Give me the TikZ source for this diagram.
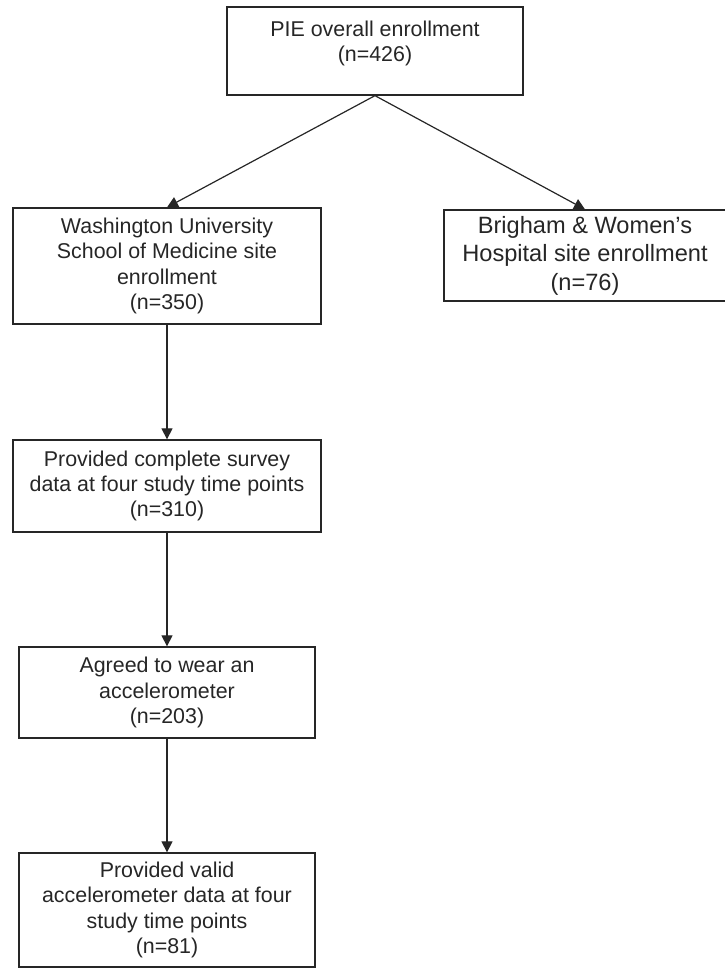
\documentclass[tikz,border=0pt]{standalone}
\usepackage{fontspec}
\setmainfont{Liberation Sans}
\usetikzlibrary{arrows.meta}

\begin{document}
\begin{tikzpicture}[x=0.5pt, y=-0.5pt,
    box/.style={draw=black!85, line width=0.65pt, inner sep=0pt, align=center, text=black!85, font=\fontsize{10.7}{12.6}\selectfont},
    link/.style={draw=black!85, line width=0.6pt, -{Triangle[length=5.5pt,width=5.5pt]}}]
    \useasboundingbox (0,0) rectangle (724,968);

    % Overall enrollment and sites
    \node[box, minimum width=148pt, minimum height=44pt] (pie) at (375,51) {\parbox[c][30pt][t]{146pt}{\centering PIE overall enrollment\\(n=426)}};
    \node[box, minimum width=154pt, minimum height=58pt] (wash) at (167,266) {Washington University\\School of Medicine site\\enrollment\\(n=350)};
    \node[box, minimum width=141pt, minimum height=45.5pt, font=\fontsize{11.8}{14.2}\selectfont] (bwh) at (585,255.5) {Brigham \& Women's\\Hospital site enrollment\\(n=76)};

    % Washington University sample
    \node[box, minimum width=154pt, minimum height=46pt] (survey) at (167,486) {Provided complete survey\\data at four study time points\\(n=310)};
    \node[box, minimum width=148pt, minimum height=45.5pt] (accel) at (167,692.5) {Agreed to wear an\\accelerometer\\(n=203)};
    \node[box, minimum width=148pt, minimum height=57pt] (valid) at (167,910) {Provided valid\\accelerometer data at four\\study time points\\(n=81)};

    \draw[link] (pie.south) -- (wash.north);
    \draw[link] (pie.south) -- (bwh.north);
    \draw[link] (wash) -- (survey);
    \draw[link] (survey) -- (accel);
    \draw[link] (accel) -- (valid);

\end{tikzpicture}
\end{document}
